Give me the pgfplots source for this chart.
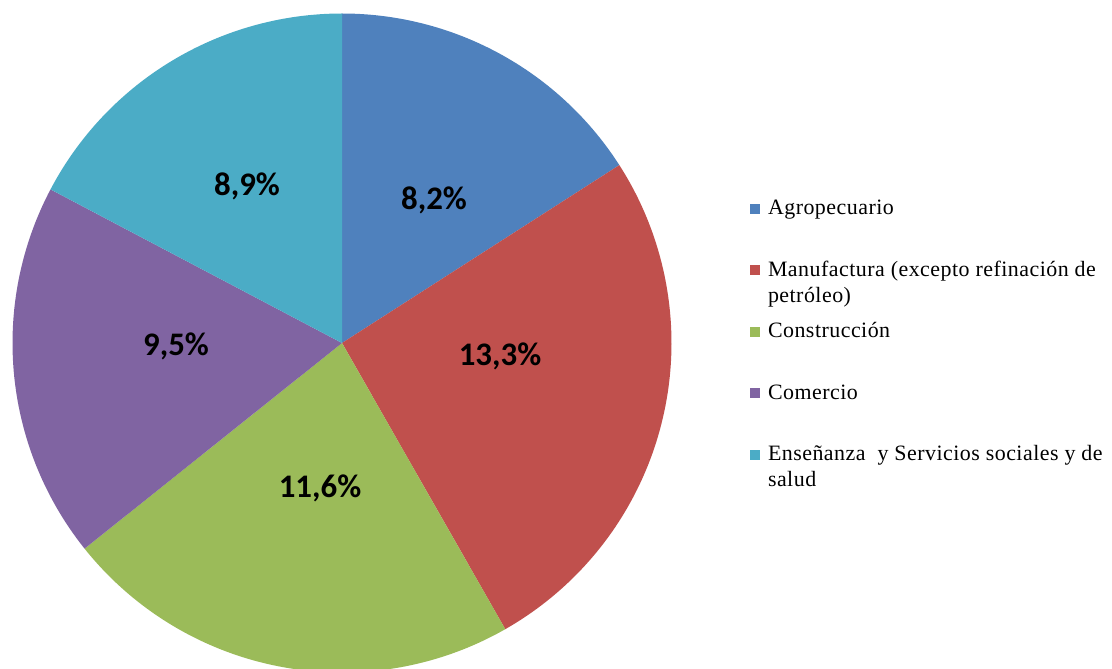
\documentclass[border=0pt]{standalone}
\usepackage{pgfplots}
\pgfplotsset{compat=1.18}
\usepackage{fontspec}
\setmainfont{Liberation Serif}[LetterSpace=2.2]
\newfontfamily\labelfont{Carlito}
\definecolor{cA}{HTML}{4F81BD}
\definecolor{cB}{HTML}{C0504D}
\definecolor{cC}{HTML}{9BBB59}
\definecolor{cD}{HTML}{8064A2}
\definecolor{cE}{HTML}{4BACC6}
\newcommand\legtxt[1]{\raisebox{0pt}[14bp][4bp]{\renewcommand\arraystretch{1}\setlength\baselineskip{26bp}\begin{tabular}[t]{@{}l@{}}#1\end{tabular}}}
\begin{document}
\begin{tikzpicture}
% values (%)
\def\vA{8.2}\def\vB{13.3}\def\vC{11.6}\def\vD{9.5}\def\vE{8.9}
\pgfmathsetmacro\tot{\vA+\vB+\vC+\vD+\vE}
\pgfmathsetmacro\aA{90}
\pgfmathsetmacro\aB{\aA-360*\vA/\tot}
\pgfmathsetmacro\aC{\aB-360*\vB/\tot}
\pgfmathsetmacro\aD{\aC-360*\vC/\tot}
\pgfmathsetmacro\aE{\aD-360*\vD/\tot}
\pgfmathsetmacro\aF{\aE-360*\vE/\tot}
\def\cx{342}\def\cy{326}\def\R{329.5}
\begin{axis}[
  width=1112bp, height=669bp, scale only axis,
  xmin=0, xmax=1112, ymin=0, ymax=669,
  hide axis, clip=true,
  legend cell align=left,
  legend image code/.code={\fill[#1] (0bp,-5bp) rectangle (10bp,5bp);},
  legend style={at={(axis cs:750,468)}, anchor=north west, draw=none, fill=none,
    inner sep=0pt, outer sep=0pt, row sep=46bp, column sep=8bp,
    nodes={inner sep=0pt, font=\fontsize{22}{26}\selectfont}},
]
\addplot[fill=cA, draw=none, domain=\aB:\aA, samples=80, variable=\t]
  ({\cx+\R*cos(\t)},{\cy+\R*sin(\t)}) -- (axis cs:\cx,\cy) -- cycle;
\addlegendentry{\legtxt{Agropecuario}}
\addplot[fill=cB, draw=none, domain=\aC:\aB, samples=100, variable=\t]
  ({\cx+\R*cos(\t)},{\cy+\R*sin(\t)}) -- (axis cs:\cx,\cy) -- cycle;
\addlegendentry{\legtxt{Manufactura (excepto refinación de\\[0bp]petróleo)}}
\addplot[fill=cC, draw=none, domain=\aD:\aC, samples=100, variable=\t]
  ({\cx+\R*cos(\t)},{\cy+\R*sin(\t)}) -- (axis cs:\cx,\cy) -- cycle;
\addlegendentry{\legtxt{Construcción}}
\addplot[fill=cD, draw=none, domain=\aE:\aD, samples=80, variable=\t]
  ({\cx+\R*cos(\t)},{\cy+\R*sin(\t)}) -- (axis cs:\cx,\cy) -- cycle;
\addlegendentry{\legtxt{Comercio}}
\addplot[fill=cE, draw=none, domain=\aF:\aE, samples=80, variable=\t]
  ({\cx+\R*cos(\t)},{\cy+\R*sin(\t)}) -- (axis cs:\cx,\cy) -- cycle;
\addlegendentry{\legtxt{Enseñanza~ y Servicios sociales y de\\[0bp]salud}}
\begin{scope}[every node/.style={font=\labelfont\bfseries\fontsize{33}{36}\selectfont}]
\node at (axis cs:434,469) {8,2\%};
\node at (axis cs:500,313) {13,3\%};
\node at (axis cs:320,181) {11,6\%};
\node at (axis cs:176,323) {9,5\%};
\node at (axis cs:247,483) {8,9\%};
\end{scope}
\end{axis}
\pgfresetboundingbox
\path (current axis.south west) rectangle (current axis.north east);
\end{tikzpicture}
\end{document}
